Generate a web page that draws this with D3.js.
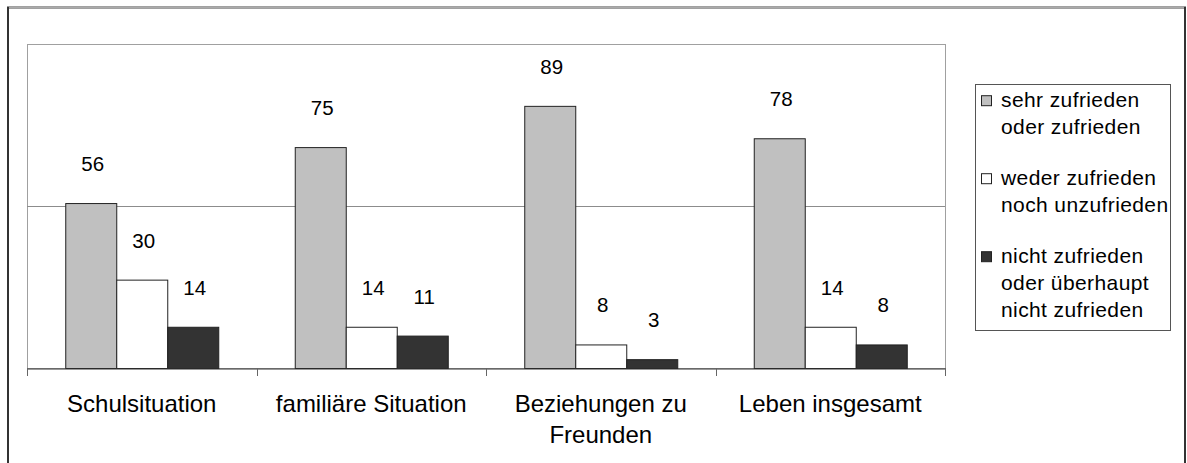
<!DOCTYPE html>
<html>
<head>
<meta charset="utf-8">
<script src="https://cdn.jsdelivr.net/npm/d3@7"></script>
<style>
  html, body { margin: 0; padding: 0; background: #fff; }
  svg { display: block; font-family: "Liberation Sans", Arial, sans-serif; }
</style>
</head>
<body>
<svg id="chart" width="1187" height="463"></svg>
<script>
// ---- data ----
const categories = [["Schulsituation"], ["familiäre Situation"], ["Beziehungen zu", "Freunden"], ["Leben insgesamt"]];
const seriesNames = ["sehr zufrieden oder zufrieden", "weder zufrieden noch unzufrieden", "nicht zufrieden oder überhaupt nicht zufrieden"];
const legendLines = [["sehr zufrieden", "oder zufrieden"], ["weder zufrieden", "noch unzufrieden"], ["nicht zufrieden", "oder überhaupt", "nicht zufrieden"]];
const seriesColors = ["#c0c0c0", "#ffffff", "#333333"];
const valuesSehr = [56, 75, 89, 78];
const valuesWeder = [30, 14, 8, 14];
const valuesNicht = [14, 11, 3, 8];
const gridValues = [55];
const yDomain = [0, 110];

const allSeries = [valuesSehr, valuesWeder, valuesNicht];
const catKeys = categories.map(c => c.join(" "));

const svg = d3.select("#chart");

// outer border (bottom edge is cut off in the picture)
svg.append("path")
  .attr("d", "M8,470 L8,7.5 L1185,7.5 L1185,470")
  .attr("fill", "none").attr("stroke", "#333").attr("stroke-width", 2);
svg.append("line").attr("x1", 9).attr("x2", 1184).attr("y1", 7.5).attr("y2", 7.5)
  .attr("stroke", "#aaa").attr("stroke-width", 2);

const plot = { left: 27, right: 945, top: 44, bottom: 368 };

const x0 = d3.scaleBand().domain(catKeys).range([plot.left, plot.right]).padding(0);
const bw = x0.bandwidth();
const x1 = d3.scaleBand().domain(d3.range(seriesNames.length)).range([bw / 6, bw * 5 / 6]).padding(0);
const y = d3.scaleLinear().domain(yDomain).range([plot.bottom, plot.top]);

// plot area border
svg.append("rect")
  .attr("x", plot.left + 0.5).attr("y", plot.top + 0.5)
  .attr("width", plot.right - plot.left).attr("height", plot.bottom - plot.top)
  .attr("fill", "none").attr("stroke", "#a0a0a0").attr("stroke-width", 1);

// gridlines
svg.selectAll(".grid").data(gridValues).enter().append("line")
  .attr("x1", plot.left).attr("x2", plot.right)
  .attr("y1", d => Math.round(y(d)) + 0.5).attr("y2", d => Math.round(y(d)) + 0.5)
  .attr("stroke", "#8c8c8c").attr("stroke-width", 1);

// bars
allSeries.forEach((vals, si) => {
  svg.append("g").selectAll("rect").data(vals).enter().append("rect")
    .attr("x", (d, i) => x0(catKeys[i]) + x1(si) + 0.5)
    .attr("y", d => y(d) + 0.5)
    .attr("width", x1.bandwidth())
    .attr("height", d => plot.bottom - y(d))
    .attr("fill", seriesColors[si])
    .attr("stroke", "#222").attr("stroke-width", 1);
  svg.append("g").selectAll("text").data(vals).enter().append("text")
    .attr("x", (d, i) => x0(catKeys[i]) + x1(si) + x1.bandwidth() / 2 + 2)
    .attr("y", d => y(d) - 32)
    .attr("text-anchor", "middle")
    .attr("font-size", 20.5)
    .attr("fill", "#000")
    .text(d => d);
});

// category axis
const xAxis = d3.axisBottom(x0).tickSize(0).tickFormat("");
const ax = svg.append("g").attr("transform", `translate(0,${plot.bottom + 0.5})`).call(xAxis);
ax.select(".domain").attr("stroke", "#333").attr("stroke-width", 1);
const bounds = catKeys.map(k => x0(k)).concat([plot.right]);
svg.selectAll(".tick-b").data(bounds).enter().append("line")
  .attr("x1", d => Math.round(d) + 0.5).attr("x2", d => Math.round(d) + 0.5)
  .attr("y1", plot.bottom).attr("y2", plot.bottom + 8)
  .attr("stroke", "#666").attr("stroke-width", 1);

const catG = svg.append("g");
categories.forEach((lines, i) => {
  const t = catG.append("text")
    .attr("x", x0(catKeys[i]) + bw / 2)
    .attr("y", 412)
    .attr("text-anchor", "middle")
    .attr("font-size", 24)
    .attr("fill", "#000");
  lines.forEach((ln, j) => {
    t.append("tspan").attr("x", x0(catKeys[i]) + bw / 2).attr("dy", j === 0 ? 0 : 31).text(ln);
  });
});

// legend
const lg = svg.append("g");
lg.append("rect").attr("x", 975.5).attr("y", 84.5).attr("width", 195).attr("height", 246)
  .attr("fill", "#fff").attr("stroke", "#555").attr("stroke-width", 1);
let baseY = 106.7;
legendLines.forEach((lines, si) => {
  lg.append("rect")
    .attr("x", 981.5).attr("y", baseY - 11)
    .attr("width", 10).attr("height", 10)
    .attr("fill", seriesColors[si]).attr("stroke", "#222").attr("stroke-width", 1);
  lines.forEach((ln, j) => {
    lg.append("text")
      .attr("x", 1001).attr("y", baseY + j * 27)
      .attr("font-size", 21)
      .attr("letter-spacing", 0.4)
      .attr("fill", "#000")
      .text(ln);
  });
  baseY += (lines.length - 1) * 27 + 51;
});
</script>
</body>
</html>
